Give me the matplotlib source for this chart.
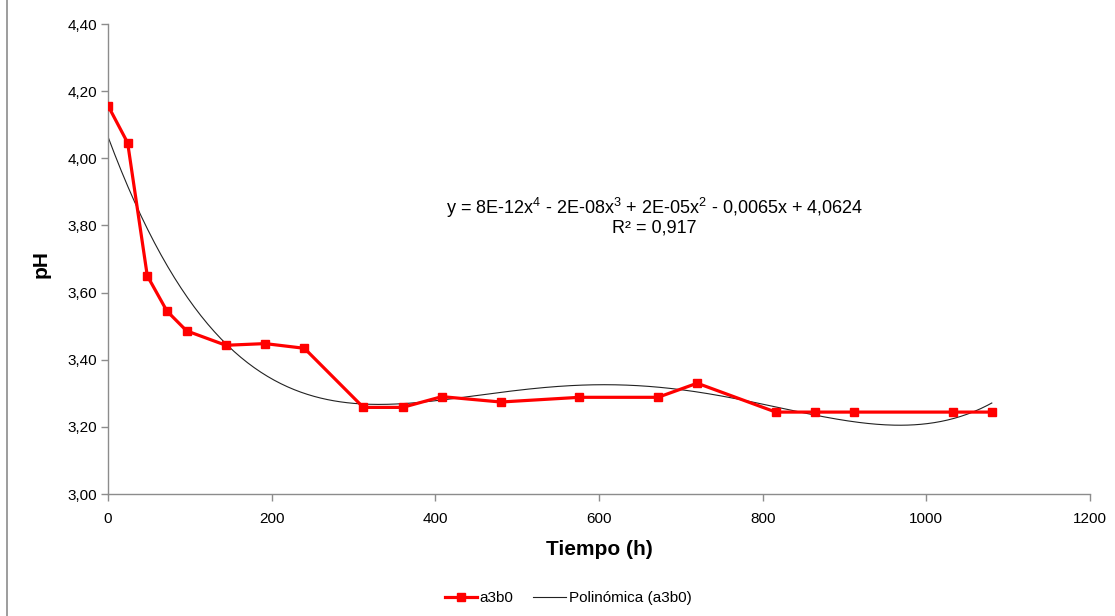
import matplotlib
matplotlib.use('Agg')
import matplotlib.pyplot as plt
from matplotlib.lines import Line2D
import numpy as np

plt.rcParams['font.family'] = ['Liberation Sans', 'DejaVu Sans']
plt.rcParams['mathtext.fontset'] = 'custom'
plt.rcParams['mathtext.rm'] = 'Liberation Sans'

# data
tiempo = [0, 24, 48, 72, 96, 144, 192, 240, 312, 360, 408, 480,
          576, 672, 720, 816, 864, 912, 1032, 1080]
ph = [4.157, 4.046, 3.650, 3.545, 3.486, 3.443, 3.448, 3.434, 3.258, 3.258,
      3.290, 3.274, 3.288, 3.288, 3.330, 3.244, 3.244, 3.244, 3.244, 3.244]

ecuacion = (r'y = 8E-12x$\mathregular{^4}$ - 2E-08x$\mathregular{^3}$ + '
            r'2E-05x$\mathregular{^2}$ - 0,0065x + 4,0624')
r2 = 'R\u00b2 = 0,917'

xticks = [0, 200, 400, 600, 800, 1000, 1200]
yticks = [3.00, 3.20, 3.40, 3.60, 3.80, 4.00, 4.20, 4.40]

# 4th degree trend line, like Excel's "Polinómica"
coef = np.polyfit(tiempo, ph, 4)
xs = np.linspace(0, 1080, 400)
ys = np.polyval(coef, xs)

W, H = 1115, 616
fig = plt.figure(figsize=(W / 100, H / 100), dpi=100)
ax = fig.add_axes([108 / W, 1 - 494 / H, (1090 - 108) / W, (494 - 24) / H])

ax.plot(xs, ys, color='#222222', linewidth=0.8, label='Polinómica (a3b0)', zorder=2)
ax.plot(tiempo, ph, color='#ff0000', linewidth=2.3, marker='s', markersize=6,
        label='a3b0', zorder=3)

ax.set_xlim(0, 1200)
ax.set_ylim(3.0, 4.4)
ax.set_xticks(xticks)
ax.set_yticks(yticks)
ax.set_xticklabels([str(t) for t in xticks])
ax.set_yticklabels([f'{v:.2f}'.replace('.', ',') for v in yticks])

for side in ['top', 'right']:
    ax.spines[side].set_visible(False)
for side in ['left', 'bottom']:
    ax.spines[side].set_color('#8c8c8c')
    ax.spines[side].set_linewidth(1)

ax.tick_params(axis='both', colors='#8c8c8c', labelcolor='black',
               labelsize=11, length=5, width=1, direction='out')
ax.tick_params(axis='x', pad=8)
ax.tick_params(axis='y', pad=3)

ax.set_xlabel('Tiempo (h)', fontsize=15, fontweight='bold')
ax.set_ylabel('pH', fontsize=15, fontweight='bold')
ax.xaxis.set_label_coords(0.5, -0.098)
ax.yaxis.set_label_coords(-0.058, 0.49)

ax.text(668, 3.852, ecuacion, fontsize=13, ha='center', va='center')
ax.text(668, 3.792, r2, fontsize=13, ha='center', va='center')

handles, labels = ax.get_legend_handles_labels()
fig.legend(handles[::-1], labels[::-1], loc='center', ncol=2,
           bbox_to_anchor=(568 / W, 1 - 598 / H), frameon=False,
           fontsize=11, handlelength=2.1, handletextpad=0.2,
           columnspacing=1.3)

# chart area border on the left edge
fig.add_artist(Line2D([7 / W, 7 / W], [0, 1], transform=fig.transFigure,
                      color='#8c8c8c', linewidth=1.2))

fig.savefig('out.png', dpi=100)
